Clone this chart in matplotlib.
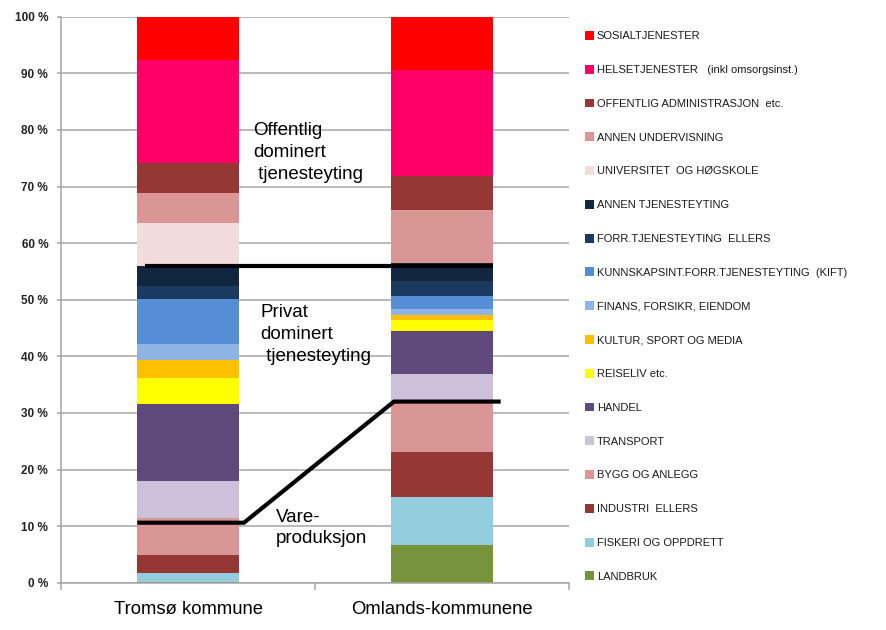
import matplotlib
matplotlib.use("Agg")
import matplotlib.pyplot as plt
from matplotlib.patches import Patch
import numpy as np

plt.rcParams['font.family'] = ['Liberation Sans', 'DejaVu Sans']

categories = ["Tromsø kommune", "Omlands-kommunene"]

# sectors, bottom to top
sectors = ["LANDBRUK", "FISKERI OG OPPDRETT", "INDUSTRI  ELLERS", "BYGG OG ANLEGG",
           "TRANSPORT", "HANDEL", "REISELIV etc.", "KULTUR, SPORT OG MEDIA",
           "FINANS, FORSIKR, EIENDOM", "KUNNSKAPSINT.FORR.TJENESTEYTING  (KIFT)",
           "FORR.TJENESTEYTING  ELLERS", "ANNEN TJENESTEYTING",
           "UNIVERSITET  OG HØGSKOLE", "ANNEN UNDERVISNING",
           "OFFENTLIG ADMINISTRASJON  etc.", "HELSETJENESTER   (inkl omsorgsinst.)",
           "SOSIALTJENESTER"]

tromso = [0.2, 1.5, 3.25, 6.5, 6.6, 13.55, 4.6, 3.2, 2.8, 8.0, 2.3, 3.5,
          7.6, 5.3, 5.3, 18.1, 7.7]
omland = [6.6, 8.5, 8.0, 8.7, 5.1, 7.5, 2.1, 0.75, 1.1, 2.35, 2.65, 3.1,
          0.0, 9.4, 6.0, 18.7, 9.45]

colors = ["#77933C", "#93CDDD", "#953735", "#D99694", "#CCC1DA", "#604A7B",
          "#FFFF00", "#FFC000", "#8EB4E3", "#558ED5", "#1A3A60", "#122640",
          "#F2DCDB", "#D99694", "#953735", "#FF0066", "#FF0000"]

# separation levels (percent) for annotation lines
sep_public = [56.0, 56.0]
sep_goods = [10.6, 32.0]

tromso = np.array(tromso)
omland = np.array(omland)
tromso = tromso / tromso.sum() * 100
omland = omland / omland.sum() * 100

fig = plt.figure(figsize=(8.86, 6.3), dpi=100)
ax = fig.add_axes([61/886, 1-582.7/630, (569.3-61)/886, (582.7-16.7)/630])

x = np.arange(len(categories))
width = 0.40
bottoms = np.zeros(2)
for i, name in enumerate(sectors):
    vals = np.array([tromso[i], omland[i]])
    ax.bar(x, vals, width, bottom=bottoms, color=colors[i], edgecolor='none', zorder=2)
    bottoms += vals

ax.set_xlim(-0.5, 1.5)
ax.set_ylim(0, 100)
ax.set_yticks(np.arange(0, 101, 10))
ax.set_yticklabels([f"{v} %" for v in range(0, 101, 10)], fontsize=8.5,
                   color='#222222', fontweight='bold')
ax.yaxis.grid(True, color='#A6A6A6', linewidth=1.1, zorder=0)
ax.set_axisbelow(True)
ax.tick_params(axis='y', length=3.2, color='#A6A6A6', width=1.1, pad=6)
ax.set_xticks(x)
ax.set_xticklabels(categories, fontsize=13.3, color='black')
ax.tick_params(axis='x', length=0, pad=13)
ax.set_xticks([-0.5, 0.5, 1.5], minor=True)
ax.tick_params(axis='x', which='minor', length=5, color='#A6A6A6', width=1.1)
for s in ['top', 'right']:
    ax.spines[s].set_visible(False)
ax.spines['left'].set_color('#A6A6A6')
ax.spines['left'].set_linewidth(1.1)
ax.spines['bottom'].set_color('#A6A6A6')
ax.spines['bottom'].set_linewidth(1.1)

# annotation lines
half = width / 2
ax.plot([x[0] - half + 0.03, x[1] + half], sep_public, color='black', lw=3, zorder=3,
        solid_capstyle='butt')
ax.plot([x[0] - half, x[0] + half + 0.02, x[1] - half + 0.01, x[1] + half + 0.03],
        [sep_goods[0], sep_goods[0], sep_goods[1], sep_goods[1]],
        color='black', lw=3, zorder=3, solid_capstyle='butt', solid_joinstyle='miter')

ax.text(0.255, 81.4, "Offentlig\ndominert\n tjenesteyting", fontsize=13.5,
        va='top', ha='left', linespacing=1.38, zorder=4)
ax.text(0.285, 49.3, "Privat\ndominert\n tjenesteyting", fontsize=13.5,
        va='top', ha='left', linespacing=1.38, zorder=4)
ax.text(0.345, 13.1, "Vare-\nproduksjon", fontsize=13.5,
        va='top', ha='left', linespacing=1.38, zorder=4)

# legend (top to bottom: reverse order)
handles = [Patch(facecolor=colors[i], edgecolor='none', label=sectors[i])
           for i in range(len(sectors) - 1, -1, -1)]
leg = fig.legend(handles=handles, loc='upper left', bbox_to_anchor=(585/886, 1-31/630),
                 frameon=False, fontsize=8, handlelength=0.85, handleheight=0.85,
                 handletextpad=0.2, labelspacing=2.115, borderpad=0, borderaxespad=0)
for t in leg.get_texts():
    t.set_color('#1a1a1a')

fig.savefig("out.png", dpi=100)
